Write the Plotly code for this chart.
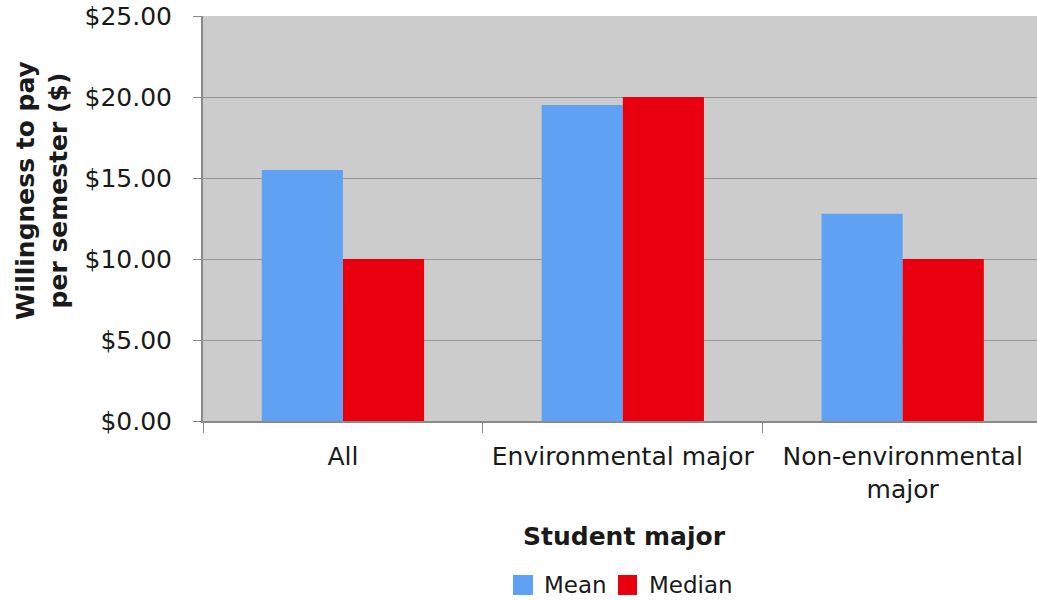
import plotly.graph_objects as go

# Student willingness to pay per semester, by major
categories = ["All", "Environmental major", "Non-environmental<br>major"]
mean_values = [15.5, 19.5, 12.8]
median_values = [10.0, 20.0, 10.0]
y_ticks = [0, 5, 10, 15, 20, 25]

FONT = "DejaVu Sans, Verdana, sans-serif"
TXT = "#1a1a1a"
BLUE = "#5fa2f4"
RED = "#e8000e"

fig = go.Figure()
fig.add_trace(go.Bar(name="Mean", x=categories, y=mean_values,
                     marker=dict(color=BLUE, line=dict(width=0))))
fig.add_trace(go.Bar(name="Median", x=categories, y=median_values,
                     marker=dict(color=RED, line=dict(width=0))))

fig.update_layout(
    width=1037, height=600,
    margin=dict(l=203, r=0, t=16, b=179),
    paper_bgcolor="white",
    plot_bgcolor="#cccccc",
    barmode="group",
    bargap=0.42,
    bargroupgap=0,
    font=dict(family=FONT, size=24, color=TXT),
    showlegend=False,
    xaxis=dict(
        range=[-0.5, 2.48],
        showgrid=False,
        ticks="outside",
        tickson="boundaries",
        ticklen=10,
        tickcolor="#8a8a8a",
        showline=True,
        linecolor="#8a8a8a",
        linewidth=2,
        ticklabelstandoff=12,
        tickfont=dict(family=FONT, size=25, color=TXT),
    ),
    yaxis=dict(
        range=[0, 25],
        tickvals=y_ticks,
        tickformat="$.2f",
        showgrid=True,
        gridcolor="#959595",
        gridwidth=1,
        zeroline=False,
        ticks="outside",
        ticklen=8,
        tickcolor="#8a8a8a",
        showline=True,
        linecolor="#8a8a8a",
        linewidth=2,
        ticklabelstandoff=16,
        tickfont=dict(family=FONT, size=25, color=TXT),
    ),
)

# Axis titles
fig.add_annotation(
    text="<b>Willingness to pay<br>per semester ($)</b>",
    xref="paper", yref="paper", x=-0.193, y=0.568,
    xanchor="center", yanchor="middle", textangle=-90,
    showarrow=False, font=dict(family=FONT, size=25, color=TXT),
)
fig.add_annotation(
    text="<b>Student major</b>",
    xref="paper", yref="paper", x=0.5048, y=-0.284,
    xanchor="center", yanchor="middle",
    showarrow=False, font=dict(family=FONT, size=25, color=TXT),
)

# Legend: colour swatch followed by series name
legend_items = [
    ("Mean", BLUE, 0.3717, 0.3957, 0.4065),
    ("Median", RED, 0.4976, 0.5204, 0.5324),
]
for name, color, sx0, sx1, tx in legend_items:
    fig.add_shape(
        type="rect", xref="paper", yref="paper",
        x0=sx0, x1=sx1, y0=-0.4296, y1=-0.3802,
        fillcolor=color, line=dict(width=0),
    )
    fig.add_annotation(
        text=name,
        xref="paper", yref="paper", x=tx, y=-0.405,
        xanchor="left", yanchor="middle",
        showarrow=False, font=dict(family=FONT, size=23, color=TXT),
    )

fig.write_html("out.html")
